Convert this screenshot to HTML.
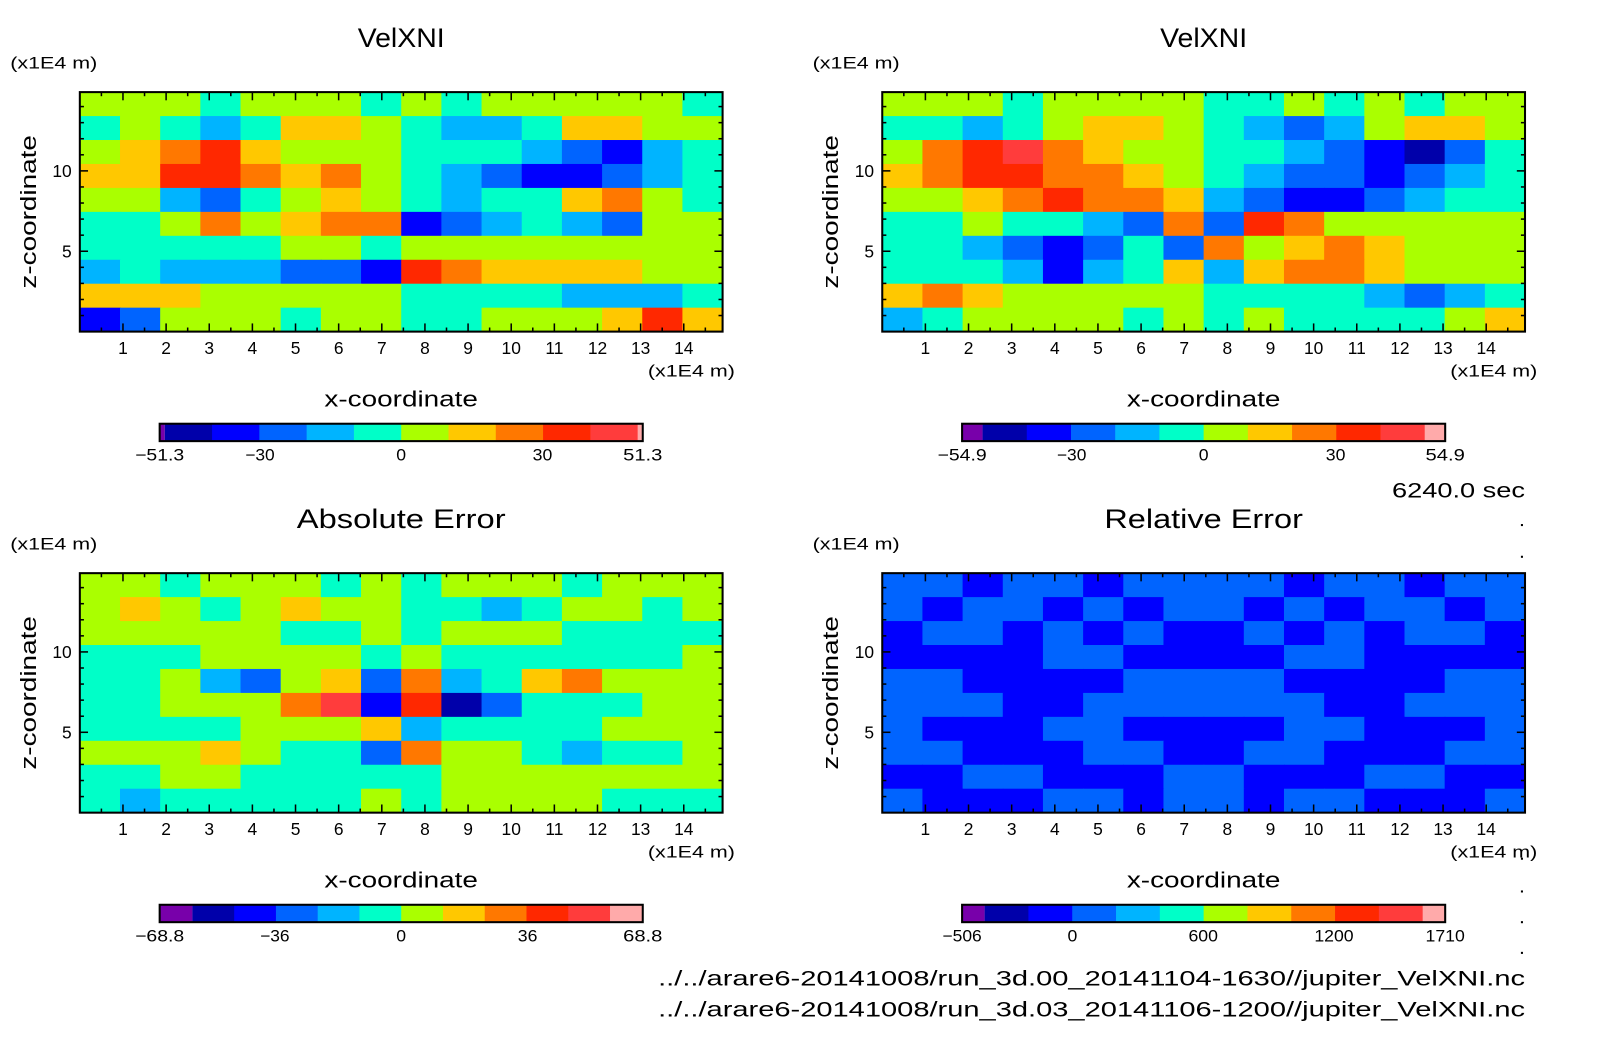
<!DOCTYPE html>
<html><head><meta charset="utf-8">
<style>
html,body{margin:0;padding:0;background:#fff;}
svg{display:block;font-family:"Liberation Sans",sans-serif;}
</style></head>
<body>
<svg id="svgroot" width="1604" height="1054" viewBox="0 0 1604 1054" xmlns="http://www.w3.org/2000/svg">
<rect x="0" y="0" width="1604" height="1054" fill="#fff"/>
<g id="fig" transform="scale(1.0235)">
<text x="1490" y="486" font-size="21" text-anchor="end" textLength="130" lengthAdjust="spacingAndGlyphs">6240.0 sec</text>
<text x="1490" y="963" font-size="21" text-anchor="end" textLength="847" lengthAdjust="spacingAndGlyphs">../../arare6-20141008/run_3d.00_20141104-1630//jupiter_VelXNI.nc</text>
<text x="1490" y="993" font-size="21" text-anchor="end" textLength="847" lengthAdjust="spacingAndGlyphs">../../arare6-20141008/run_3d.03_20141106-1200//jupiter_VelXNI.nc</text>
<g fill="#000">
<rect x="1486" y="512" width="2" height="2"/><rect x="1486" y="543" width="2" height="2"/>
<rect x="1486" y="838" width="2" height="2"/><rect x="1486" y="870" width="2" height="2"/>
<rect x="1486" y="900" width="2" height="2"/><rect x="1486" y="930" width="2" height="2"/>
</g>
</g>
</svg>
<script>
// ---- data ----
const xTicks = [1,2,3,4,5,6,7,8,9,10,11,12,13,14];
const zTicks = [5,10];
const xDomain = [0, 14.9];
const zDomain = [0, 14.9];
const bandColors = ["#0000AA","#0000FF","#0064FF","#00B4FF","#00FFC8","#AAFF00","#FFC800","#FF7800","#FF2800","#FF3C3C"];
const lowColor = "#7800AA";
const highColor = "#FFAAAA";

const p1Bounds = [-51.3,-40,-30,-20,-10,0,10,20,30,40,51.3];
const p1TickLabels = ["-51.3","-30","0","30","51.3"];
const p1TickValues = [-51.3,-30,0,30,51.3];
const p1Values = [
[5,5,5,-5,5,5,5,-5, 5,-5,5,5,5,5,5,-5],
[-5,5,-5,-15,-5,15,15,5, -5,-15,-15,-5,15,15,5,5],
[5,15,25,35,15,5,5,5, -5,-5,-5,-15,-25,-35,-15,-5],
[15,15,35,35,25,15,25,5, -5,-15,-25,-35,-35,-25,-15,-5],
[5,5,-15,-25,-5,5,15,5, -5,-15,-5,-5,15,25,5,-5],
[-5,-5,5,25,5,15,25,25, -35,-25,-15,-5,-15,-25,5,5],
[-5,-5,-5,-5,-5,5,5,-5, 5,5,5,5,5,5,5,5],
[-15,-5,-15,-15,-15,-25,-25,-35, 35,25,15,15,15,15,5,5],
[15,15,15,5,5,5,5,5, -5,-5,-5,-5,-15,-15,-15,-5],
[-35,-25,5,5,5,-5,5,5, -5,-5,5,5,5,15,35,15]
];

const p2Bounds = [-54.9,-40,-30,-20,-10,0,10,20,30,40,54.9];
const p2TickLabels = ["-54.9","-30","0","30","54.9"];
const p2TickValues = [-54.9,-30,0,30,54.9];
const p2Values = [
[5,5,5,-5,5,5,5,5, -5,-5,5,-5,5,-5,5,5],
[-5,-5,-15,-5,5,15,15,5, -5,-15,-25,-15,5,15,15,5],
[5,25,35,45,25,15,5,5, -5,-5,-15,-25,-35,-45,-25,-5],
[15,25,35,35,25,25,15,5, -5,-15,-25,-25,-35,-25,-15,-5],
[5,5,15,25,35,25,25,15, -15,-25,-35,-35,-25,-15,-5,-5],
[-5,-5,5,-5,-5,-15,-25,25, -25,35,25,5,5,5,5,5],
[-5,-5,-15,-25,-35,-25,-5,-25, 25,5,15,25,15,5,5,5],
[-5,-5,-5,-15,-35,-15,-5,15, -15,15,25,25,15,5,5,5],
[15,25,15,5,5,5,5,5, -5,-5,-5,-5,-15,-25,-15,-5],
[-15,-5,5,5,5,5,-5,5, -5,5,-5,-5,-5,-5,5,15]
];

const p3Bounds = [-68.8,-48,-36,-24,-12,0,12,24,36,48,68.8];
const p3TickLabels = ["-68.8","-36","0","36","68.8"];
const p3TickValues = [-68.8,-36,0,36,68.8];
const p3Values = [
[6,6,-6,6,6,6,-6,6, -6,6,6,6,-6,6,6,6],
[6,18,6,-6,6,18,6,6, -6,-6,-18,-6,6,6,-6,6],
[6,6,6,6,6,-6,-6,6, -6,6,6,6,-6,-6,-6,-6],
[-6,-6,-6,6,6,6,6,-6, 6,-6,-6,-6,-6,-6,-6,6],
[-6,-6,6,-18,-30,6,18,-30, 30,-18,-6,18,30,6,6,6],
[-6,-6,6,6,6,30,54,-42, 42,-54,-30,-6,-6,-6,6,6],
[-6,-6,-6,-6,6,6,6,18, -18,-6,-6,-6,-6,6,6,6],
[6,6,6,18,6,-6,-6,-30, 30,6,6,-6,-18,-6,-6,6],
[-6,-6,6,6,-6,-6,-6,-6, -6,6,6,6,6,6,6,6],
[-6,-18,-6,-6,-6,-6,-6,6, -6,6,6,6,6,-6,-6,-6]
];

const p4Bounds = [-400,-200,0,200,400,600,800,1000,1200,1400,1600];
const p4TickLabels = ["-506","0","600","1200","1710"];
const p4TickValues = [-506,0,600,1200,1710];
const p4Values = [
[100,100,-100,100,100,-100,100,100, 100,100,-100,100,100,-100,100,100],
[100,-100,100,100,-100,100,-100,100, 100,-100,100,-100,100,100,-100,100],
[-100,100,100,-100,100,-100,100,-100, -100,100,-100,100,-100,100,100,-100],
[-100,-100,-100,-100,100,100,-100,-100, -100,-100,100,100,-100,-100,-100,-100],
[100,100,-100,-100,-100,-100,100,100, 100,100,-100,-100,-100,-100,100,100],
[100,100,100,-100,-100,100,100,100, 100,100,100,-100,-100,100,100,100],
[100,-100,-100,-100,100,100,-100,-100, -100,-100,100,100,-100,-100,-100,100],
[100,100,-100,-100,-100,100,100,-100, -100,100,100,-100,-100,-100,100,100],
[-100,-100,100,100,-100,-100,-100,100, 100,-100,-100,-100,100,100,-100,-100],
[100,-100,-100,-100,100,100,-100,100, 100,-100,100,100,-100,-100,-100,100]
];

// ---- drawing ----
const NS = "http://www.w3.org/2000/svg";
const fig = document.getElementById("fig");
function mk(tag, attrs, parent){
  const e = document.createElementNS(NS, tag);
  for (const k in attrs) e.setAttribute(k, attrs[k]);
  (parent||fig).appendChild(e);
  return e;
}
function colorFor(v, bounds){
  if (v < bounds[0]) return lowColor;
  for (let i=0;i<bounds.length-1;i++){ if (v < bounds[i+1]) return bandColors[i]; }
  return highColor;
}
const PW = 628, PH = 234;

function drawPanel(name, ox, oy, title, titleW, values, bounds, tickLabels, tickValues, capW){
  const g = mk("g", {});
  
  
  const xs = v => ox + (v - xDomain[0]) / (xDomain[1]-xDomain[0]) * PW;
  const zs = v => oy + PH - (v - zDomain[0]) / (zDomain[1]-zDomain[0]) * PH;
  const t = mk("text", {x: ox+314, y: oy-44, "font-size": 26, "text-anchor":"middle", textLength: titleW, lengthAdjust:"spacingAndGlyphs"}, g);
  t.textContent = title;
  
  
  const yu = mk("text", {x: ox-68, y: oy-23, "font-size": 16, textLength: 85, lengthAdjust:"spacingAndGlyphs"}, g);
  yu.textContent = "(x1E4 m)";
  
  
  const cells = mk("g", {}, g);
  
  
  const rows = values.length, cols = values[0].length;
  const dx = (xDomain[1]-xDomain[0]) / cols, dz = (zDomain[1]-zDomain[0]) / rows;
  for (let r=0;r<rows;r++){
    for (let c=0;c<cols;c++){
      const x0 = xs(xDomain[0] + c*dx), x1 = xs(xDomain[0] + (c+1)*dx);
      const yTop = zs(zDomain[1] - r*dz), yBot = zs(zDomain[1] - (r+1)*dz);
      const rc = mk("rect", {x: x0, y: yTop, width: x1-x0+0.6, height: yBot-yTop+0.6, fill: colorFor(values[r][c], bounds)}, cells);
      
      
    }
  }
  const fr = mk("rect", {x: ox, y: oy, width: PW, height: PH, fill: "none", stroke: "#000", "stroke-width": 2}, g);
  
  
  for (let v=0.5; v<xDomain[1]; v+=0.5){
    const major = Math.abs(v-Math.round(v))<1e-6;
    const L = major ? 8 : 4;
    mk("line", {x1: xs(v), x2: xs(v), y1: oy, y2: oy+L, stroke:"#000", "stroke-width":1.5}, g);
    mk("line", {x1: xs(v), x2: xs(v), y1: oy+PH, y2: oy+PH-L, stroke:"#000", "stroke-width":1.5}, g);
  }
  for (let v=1; v<zDomain[1]; v+=1){
    const major = v%5===0;
    const L = major ? 8 : 4;
    mk("line", {x1: ox, x2: ox+L, y1: zs(v), y2: zs(v), stroke:"#000", "stroke-width":1.5}, g);
    mk("line", {x1: ox+PW, x2: ox+PW-L, y1: zs(v), y2: zs(v), stroke:"#000", "stroke-width":1.5}, g);
  }
  xTicks.forEach(v=>{
    const tl = mk("text", {x: xs(v), y: oy+PH+22, "font-size": 17, "text-anchor":"middle"}, g);
    tl.textContent = String(v);
    
    
  });
  zTicks.forEach(v=>{
    const tl = mk("text", {x: ox-8, y: zs(v)+6, "font-size": 17, "text-anchor":"end"}, g);
    tl.textContent = String(v);
    
    
  });
  const xu = mk("text", {x: ox+640, y: oy+PH+44, "font-size": 16, "text-anchor":"end", textLength: 85, lengthAdjust:"spacingAndGlyphs"}, g);
  xu.textContent = "(x1E4 m)";
  
  
  const xt = mk("text", {x: ox+314, y: oy+PH+73, "font-size": 22, "text-anchor":"middle", textLength: 150, lengthAdjust:"spacingAndGlyphs"}, g);
  xt.textContent = "x-coordinate";
  
  
  const yt = mk("text", {x: 0, y: 0, "font-size": 22, "text-anchor":"middle", textLength: 150, lengthAdjust:"spacingAndGlyphs", transform: `translate(${ox-43},${oy+117}) rotate(-90)`}, g);
  yt.textContent = "z-coordinate";
  
  
  const cb = mk("g", {}, g);
  
  
  const cx0 = ox+78, cx1 = ox+550, cy = oy+324, ch = 17;
  const bw = (cx1-cx0-2*capW)/bandColors.length;
  const cap1 = mk("rect", {x: cx0, y: cy, width: capW, height: ch, fill: lowColor}, cb);
  
  
  bandColors.forEach((col,i)=>{
    const b = mk("rect", {x: cx0+capW+i*bw, y: cy, width: bw+0.5, height: ch, fill: col}, cb);
    
    
  });
  const cap2 = mk("rect", {x: cx1-capW, y: cy, width: capW, height: ch, fill: highColor}, cb);
  
  
  mk("rect", {x: cx0, y: cy, width: cx1-cx0, height: ch, fill:"none", stroke:"#000", "stroke-width":2}, cb);
  const vmin = tickValues[0], vmax = tickValues[tickValues.length-1];
  tickLabels.forEach((lab,i)=>{
    const v = tickValues[i];
    const px = cx0 + (v-vmin)/(vmax-vmin)*(cx1-cx0);
    const tl = mk("text", {x: px, y: cy+36, "font-size": 16, "text-anchor":"middle", textLength: lab.length*9.6, lengthAdjust:"spacingAndGlyphs"}, cb);
    tl.textContent = lab.replace("-", "\u2212");
    
    
  });
}
drawPanel("panel-velxni-1", 78, 90, "VelXNI", 85, p1Values, p1Bounds, p1TickLabels, p1TickValues, 5);
drawPanel("panel-velxni-2", 862, 90, "VelXNI", 85, p2Values, p2Bounds, p2TickLabels, p2TickValues, 20);
drawPanel("panel-absolute-error", 78, 560, "Absolute Error", 204, p3Values, p3Bounds, p3TickLabels, p3TickValues, 32);
drawPanel("panel-relative-error", 862, 560, "Relative Error", 194, p4Values, p4Bounds, p4TickLabels, p4TickValues, 22);
</script>
</body></html>
